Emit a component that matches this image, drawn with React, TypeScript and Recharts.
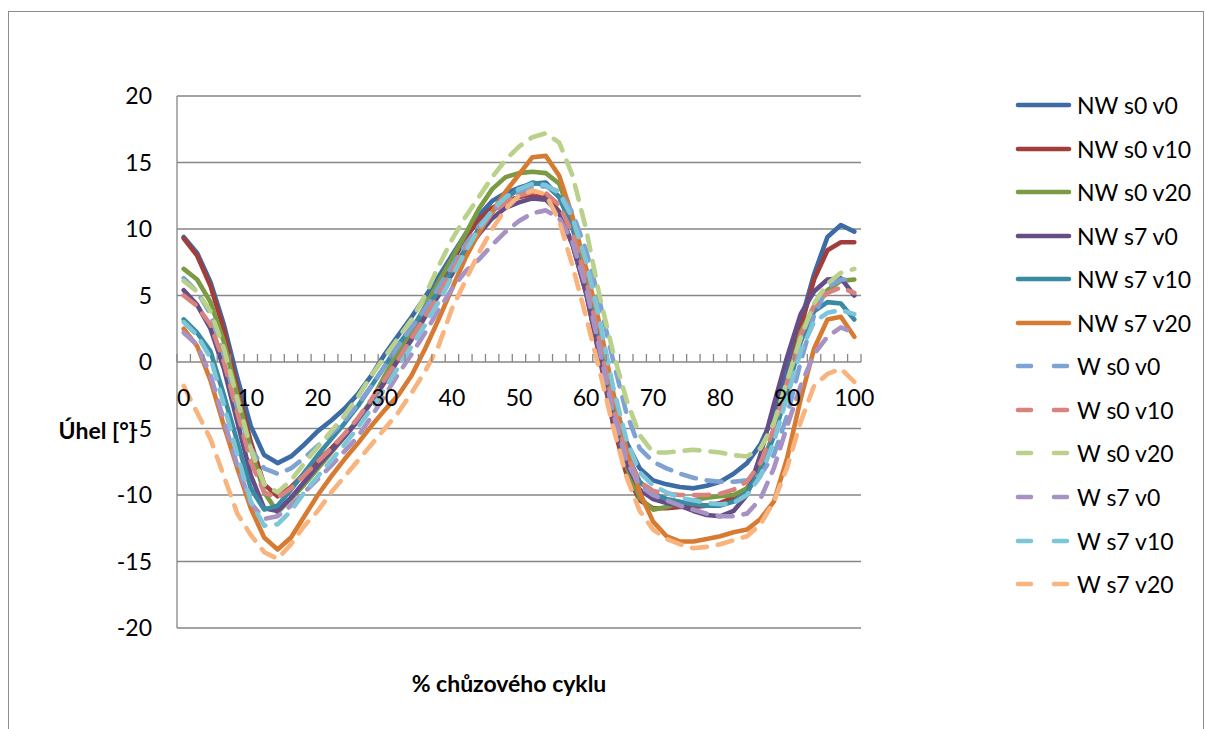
import React from "react";
import {LineChart, Line, XAxis, YAxis, CartesianGrid} from "recharts";

// % of gait cycle (category points)
const cycle = [0, 2, 4, 6, 8, 10, 12, 14, 16, 18, 20, 22, 24, 26, 28, 30, 32, 34, 36, 38, 40, 42, 44, 46, 48, 50,
    52, 54, 56, 58, 60, 62, 64, 66, 68, 70, 72, 74, 76, 78, 80, 82, 84, 86, 88, 90, 92, 94, 96, 98, 100];

const nwS0v0 = [9.4, 8.2, 6.0, 2.8, -1.2, -4.8, -7.0, -7.6, -7.1, -6.2, -5.2, -4.4, -3.5, -2.4, -1.0, 0.6, 2.0, 3.4, 4.9, 6.4,
    8.0, 9.6, 11.0, 12.1, 12.7, 13.1, 13.4, 13.5, 12.4, 10.2, 7.0, 2.2, -2.6, -6.0, -8.0, -8.9, -9.2, -9.4, -9.5, -9.3,
    -9.0, -8.4, -7.6, -6.2, -4.0, -0.8, 3.0, 6.6, 9.4, 10.3, 9.8];
const nwS0v10 = [9.3, 8.0, 5.7, 2.4, -2.0, -6.0, -9.2, -10.1, -9.4, -8.4, -7.4, -6.5, -5.5, -4.4, -3.0, -1.5, 0.2, 1.8, 3.6, 5.5,
    7.5, 9.3, 10.7, 11.6, 12.1, 12.4, 12.6, 12.5, 11.3, 8.8, 5.2, 0.4, -4.6, -8.4, -10.4, -11.0, -11.0, -10.9, -10.9, -10.8,
    -10.6, -10.2, -9.5, -8.0, -5.4, -1.6, 2.6, 6.2, 8.4, 9.0, 9.0];
const nwS0v20 = [7.0, 6.2, 4.5, 1.5, -2.5, -6.5, -9.8, -11.3, -10.3, -9.2, -8.0, -6.8, -5.6, -4.3, -2.9, -1.0, 0.7, 2.4, 4.2, 6.0,
    7.8, 9.6, 11.5, 13.0, 13.9, 14.2, 14.3, 14.2, 13.4, 10.6, 6.4, 1.2, -4.0, -7.8, -10.2, -11.1, -10.9, -10.6, -10.4, -10.2,
    -10.1, -10.0, -9.5, -8.0, -5.3, -1.8, 2.2, 4.2, 5.4, 6.1, 6.2];
const nwS7v0 = [5.4, 4.3, 2.5, -0.5, -4.5, -8.5, -11.0, -11.2, -10.2, -9.0, -7.8, -6.7, -5.6, -4.4, -3.0, -1.4, 0.2, 1.7, 3.4, 5.0,
    6.6, 8.2, 9.6, 10.8, 11.6, 12.0, 12.3, 12.2, 11.2, 8.8, 5.2, 0.6, -4.2, -7.6, -9.6, -10.3, -10.6, -10.8, -11.2, -11.5,
    -11.6, -11.2, -10.0, -7.0, -3.2, 0.4, 3.6, 5.3, 6.2, 6.3, 5.0];
const nwS7v10 = [3.2, 2.2, 0.8, -2.5, -6.0, -9.5, -11.1, -10.8, -9.6, -8.3, -7.0, -5.8, -4.6, -3.3, -1.8, -0.3, 1.3, 2.6, 3.9, 5.3,
    6.9, 8.5, 10.0, 11.3, 12.3, 13.0, 13.5, 13.3, 12.4, 10.0, 6.6, 2.0, -3.0, -6.8, -9.0, -9.9, -10.3, -10.5, -10.7, -10.8,
    -10.8, -10.5, -9.8, -8.2, -5.6, -2.2, 1.5, 3.8, 4.5, 4.4, 3.2];
const nwS7v20 = [2.5, 1.2, -1.4, -4.8, -8.0, -11.0, -13.2, -14.1, -13.2, -11.6, -10.0, -8.6, -7.3, -6.1, -4.8, -3.6, -2.5, -1.0, 1.0, 3.2,
    5.5, 7.8, 9.7, 11.3, 12.8, 14.1, 15.4, 15.5, 14.0, 10.9, 7.0, 2.9, -2.2, -6.5, -9.8, -12.0, -13.1, -13.5, -13.5, -13.3,
    -13.1, -12.8, -12.6, -11.8, -10.5, -7.2, -2.8, 1.0, 3.2, 3.4, 1.9];
const wS0v0 = [6.3, 5.3, 3.6, 0.5, -3.5, -6.5, -8.0, -8.4, -8.0, -7.2, -6.3, -5.4, -4.4, -3.2, -1.8, -0.3, 1.2, 2.6, 4.0, 5.6,
    7.2, 8.8, 10.2, 11.3, 12.1, 12.7, 13.2, 13.2, 12.8, 11.2, 8.4, 4.6, 0.2, -3.8, -6.5, -7.5, -8.0, -8.4, -8.7, -8.9,
    -9.0, -9.0, -8.9, -8.5, -7.0, -4.0, 0.0, 3.5, 5.6, 6.2, 6.2];
const wS0v10 = [5.0, 4.2, 2.8, 0.0, -3.8, -7.5, -9.8, -10.2, -9.5, -8.5, -7.5, -6.5, -5.4, -4.2, -2.8, -1.3, 0.2, 1.8, 3.4, 5.0,
    6.8, 8.5, 10.0, 11.2, 12.0, 12.5, 12.8, 12.7, 11.8, 9.6, 6.2, 1.6, -3.3, -7.0, -9.0, -9.7, -9.9, -10.0, -10.0, -10.0,
    -9.9, -9.6, -9.0, -7.6, -5.0, -1.5, 2.0, 4.2, 5.2, 5.6, 5.2];
const wS0v20 = [6.1, 5.3, 3.8, 1.0, -2.8, -6.5, -9.2, -9.8, -8.9, -7.6, -6.4, -5.2, -4.0, -2.6, -1.0, 0.4, 1.8, 3.2, 5.0, 7.2,
    9.2, 10.9, 12.4, 13.9, 15.2, 16.2, 16.9, 17.2, 16.5, 14.0, 10.0, 5.0, 0.8, -2.8, -5.5, -6.8, -6.8, -6.7, -6.6, -6.7,
    -6.8, -7.0, -7.1, -6.5, -4.6, -1.4, 1.8, 4.4, 5.9, 6.7, 7.0];
const wS7v0 = [2.2, 1.3, -1.0, -4.4, -7.8, -10.6, -11.8, -11.6, -10.8, -9.8, -8.8, -7.8, -6.7, -5.6, -4.1, -2.5, -0.9, 0.6, 2.2, 3.9,
    5.5, 6.8, 7.7, 8.8, 9.8, 10.6, 11.2, 11.4, 10.8, 9.0, 5.6, 1.0, -3.8, -7.4, -9.3, -10.0, -10.4, -10.8, -11.1, -11.4,
    -11.6, -11.6, -11.4, -10.3, -8.0, -4.8, -1.8, 0.6, 1.9, 2.6, 2.2];
const wS7v10 = [3.0, 2.0, 0.3, -3.2, -7.0, -10.5, -12.3, -12.2, -11.2, -9.8, -8.6, -7.4, -6.2, -4.9, -3.5, -2.0, -0.4, 1.2, 2.8, 4.5,
    6.4, 8.3, 10.0, 11.4, 12.4, 13.0, 13.4, 13.3, 12.7, 10.8, 7.6, 3.2, -1.8, -5.8, -8.3, -9.3, -9.8, -10.2, -10.4, -10.6,
    -10.7, -10.6, -10.0, -8.6, -6.0, -2.6, 0.8, 3.0, 3.7, 3.9, 3.6];
const wS7v20 = [-1.8, -3.8, -5.8, -8.6, -11.4, -13.0, -14.3, -14.8, -13.7, -12.3, -11.2, -9.8, -8.6, -7.4, -6.2, -5.0, -3.8, -2.3, -0.7, 1.2,
    4.0, 6.1, 8.2, 10.0, 11.5, 12.5, 12.9, 12.6, 10.6, 7.2, 3.4, -0.6, -4.8, -8.6, -11.2, -12.6, -13.3, -13.7, -14.0, -13.9,
    -13.7, -13.4, -13.1, -12.2, -10.5, -7.9, -4.5, -1.8, -0.9, -0.5, -1.5];

const seriesNames = ["NW s0 v0", "NW s0 v10", "NW s0 v20", "NW s7 v0", "NW s7 v10", "NW s7 v20",
    "W s0 v0", "W s0 v10", "W s0 v20", "W s7 v0", "W s7 v10", "W s7 v20"];
const seriesValues = [nwS0v0, nwS0v10, nwS0v20, nwS7v0, nwS7v10, nwS7v20, wS0v0, wS0v10, wS0v20, wS7v0, wS7v10, wS7v20];
const seriesColors = ["#3C6BA5", "#A13E3B", "#7A9A43", "#654E87", "#388BA3", "#D77B33",
    "#7FA2D4", "#D9837F", "#B9D18A", "#A792C4", "#7DC5D9", "#F9B37C"];
const seriesDashed = [false, false, false, false, false, false, true, true, true, true, true, true];

const yTicks = [-20, -15, -10, -5, 0, 5, 10, 15, 20];
const xLabels = [0, 10, 20, 30, 40, 50, 60, 70, 80, 90, 100];

const FONT = "Lato, 'Open Sans', sans-serif";
const GRID = "#868686";
const PLOT_H = 532;

const data = cycle.map((c, i) => {
    const row: any = {x: c};
    seriesNames.forEach((n, k) => {
        row[n] = seriesValues[k][i];
    });
    return row;
});

// tick marks sit between categories, labels on the categories
const boundaries = cycle.map((c) => c - 1).concat([cycle[cycle.length - 1] + 1]);
const xTicks = [...boundaries, ...xLabels].sort((a, b) => a - b);

// the x axis crosses at y = 0, i.e. half way up the plot
const renderXTick = ({x, y, payload}: any) => {
    const v = payload.value;
    const y0 = y - PLOT_H / 2;
    if (xLabels.includes(v)) {
        return (
            <text x={x} y={y0 + 36} dy="0.36em" textAnchor="middle" fill="#000" fontSize={23} fontFamily={FONT}>
                {v}
            </text>
        );
    }
    return <line x1={x} x2={x} y1={y0} y2={y0 - 8} stroke={GRID} strokeWidth={1.3}/>;
};

const App = () => {
    return (
        <div style={{fontFamily: FONT}}>
            <div style={{
                position: "absolute", left: 8, top: 11, width: 1196, height: 740,
                border: "1.3px solid #8c8c8c", boxSizing: "border-box"
            }}/>
            <div style={{position: "absolute", left: 0, top: 0}}>
                <LineChart width={1205} height={729} data={data}
                           margin={{top: 96, right: 344, bottom: 71, left: 117}}>
                    <CartesianGrid vertical={false} stroke={GRID} strokeWidth={1.3}/>
                    <XAxis dataKey="x" type="number" domain={[-1, 101]} ticks={xTicks} interval={0}
                           height={30} tickSize={0} tickMargin={0} axisLine={false} tickLine={false}
                           tick={renderXTick} allowDataOverflow/>
                    <YAxis type="number" domain={[-20, 20]} ticks={yTicks} interval={0} width={60}
                           axisLine={{stroke: GRID, strokeWidth: 1.3}} tickLine={false} tickSize={0} tickMargin={25}
                           tick={{fill: "#000", fontSize: 23, fontFamily: FONT}}/>
                    {seriesNames.map((n, k) => (
                        <Line key={n} type="linear" dataKey={n} stroke={seriesColors[k]} strokeWidth={4.6}
                              strokeDasharray={seriesDashed[k] ? "15 11" : undefined}
                              strokeLinecap="round" strokeLinejoin="round"
                              dot={false} activeDot={false} isAnimationActive={false}/>
                    ))}
                </LineChart>
            </div>
            <div style={{
                position: "absolute", left: 0, top: 415, width: 136, textAlign: "right",
                fontSize: 23, lineHeight: "30px", fontWeight: 700
            }}>
                Úhel [°]
            </div>
            <div style={{
                position: "absolute", left: 309, top: 668, width: 400, textAlign: "center",
                fontSize: 23, lineHeight: "30px", fontWeight: 700
            }}>
                % chůzového cyklu
            </div>
            {seriesNames.map((n, k) => (
                <div key={n} style={{position: "absolute", left: 1012, top: 105 + k * 43.55 - 15, height: 30}}>
                    <svg width={64} height={30} style={{position: "absolute", left: 0, top: 0}}>
                        <line x1={6} x2={57} y1={15} y2={15} stroke={seriesColors[k]} strokeWidth={4.6}
                              strokeLinecap="round" strokeDasharray={seriesDashed[k] ? "13 23" : undefined}/>
                    </svg>
                    <span style={{
                        position: "absolute", left: 65, top: 0, whiteSpace: "nowrap",
                        fontSize: 23, lineHeight: "30px", color: "#000"
                    }}>{n}</span>
                </div>
            ))}
        </div>
    );
};

export default App;
